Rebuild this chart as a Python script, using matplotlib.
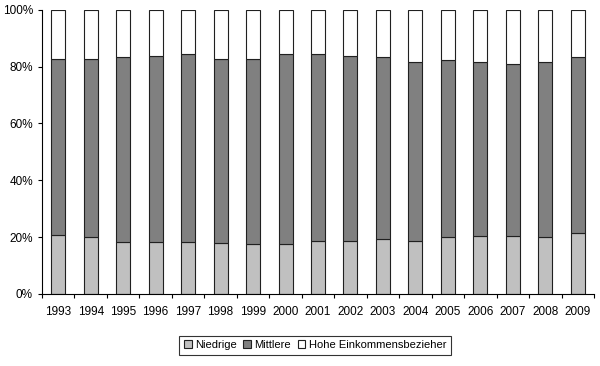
import numpy as np
import matplotlib.pyplot as plt
from matplotlib.ticker import FixedLocator, NullFormatter

plt.rcParams['font.family'] = ['Liberation Sans', 'DejaVu Sans']

# -------------------- Data (shares in %) -------------------- #
years = ["1993", "1994", "1995", "1996", "1997", "1998", "1999", "2000", "2001",
         "2002", "2003", "2004", "2005", "2006", "2007", "2008", "2009"]
niedrige = [20.7, 20.0, 18.1, 18.3, 18.1, 17.8, 17.5, 17.5, 18.7,
            18.7, 19.2, 18.7, 20.0, 20.3, 20.3, 20.0, 21.4]
mittlere_top = [82.7, 82.7, 83.3, 83.9, 84.5, 82.7, 82.7, 84.5, 84.5,
                83.6, 83.3, 81.7, 82.3, 81.7, 81.0, 81.5, 83.3]
mittlere = [t - n for t, n in zip(mittlere_top, niedrige)]
hohe = [100 - t for t in mittlere_top]

# -------------------- Plot -------------------- #
fig = plt.figure(figsize=(6.0, 3.66), dpi=100)
ax = fig.add_axes([0.07, 0.197, 0.92, 0.776])

x = np.arange(len(years))
w = 0.43
edge = dict(edgecolor="#202020", linewidth=0.8)
ax.bar(x, niedrige, w, color="#c0c0c0", label="Niedrige", **edge)
ax.bar(x, mittlere, w, bottom=niedrige, color="#808080", label="Mittlere", **edge)
ax.bar(x, hohe, w, bottom=mittlere_top, color="white",
       label="Hohe Einkommensbezieher", **edge)

ax.set_xlim(-0.5, len(years) - 0.5)
ax.set_ylim(0, 100)
ax.set_yticks(np.arange(0, 101, 20))
ax.set_yticklabels([f"{v}%" for v in range(0, 101, 20)], fontsize=8.5)

# ticks between categories, labels at centres
ax.xaxis.set_major_locator(FixedLocator(np.arange(-0.5, len(years), 1.0)))
ax.xaxis.set_major_formatter(NullFormatter())
ax.xaxis.set_minor_locator(FixedLocator(x))
ax.set_xticklabels(years, minor=True, fontsize=8.5)
ax.tick_params(axis="x", which="minor", length=0, pad=9)
ax.tick_params(axis="both", which="major", length=3, width=0.8, color="black")

for s in ["top", "right"]:
    ax.spines[s].set_visible(False)
for s in ["left", "bottom"]:
    ax.spines[s].set_linewidth(0.8)

leg = fig.legend(loc="center", bbox_to_anchor=(0.525, 0.057), ncol=3, fontsize=8,
                 frameon=True, fancybox=False, edgecolor="black",
                 handlelength=0.7, handleheight=0.7, handletextpad=0.3,
                 columnspacing=0.6, borderpad=0.4)
leg.get_frame().set_linewidth(0.8)

fig.savefig("out.png", dpi=100)
